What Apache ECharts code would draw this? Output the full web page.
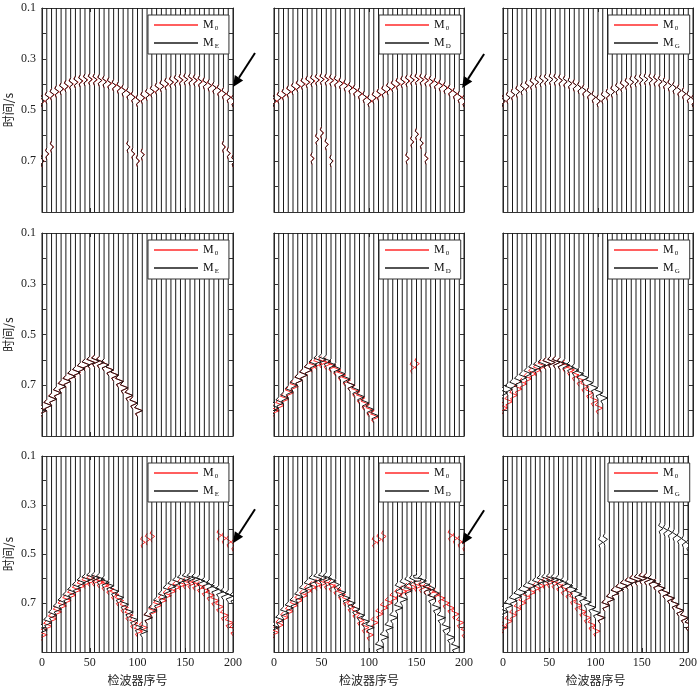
<!DOCTYPE html>
<html>
<head>
<meta charset="utf-8">
<script src="https://cdn.jsdelivr.net/npm/echarts@6/dist/echarts.min.js"></script>
<style>
  html, body { margin: 0; padding: 0; background: #fff; }
  #main { width: 700px; height: 687px; }
</style>
</head>
<body>
<div id="main"></div>
<script>
// receiver numbers (one trace each)
const TRACE_X = [0, 5, 10, 15, 20, 25, 30, 35, 40, 45, 50, 55, 60, 65, 70, 75, 80, 85, 90, 95, 100,
  105, 110, 115, 120, 125, 130, 135, 140, 145, 150, 155, 160, 165, 170, 175, 180, 185, 190, 195, 200];
const Y_LABELS = [0.1, 0.3, 0.5, 0.7];
const Y_MIN = 0.1, Y_MAX = 0.9;

// wavelet shape (time offset in s, relative amplitude)
const WAVELET_DT = [-0.024, -0.012, 0, 0.012, 0.024];
const WAVELET_AMP = [0, -0.6, 1, -0.4, 0];

// arrival times per trace, null = no event on that trace
const T_DIRECT = [0.465, 0.452, 0.44, 0.428, 0.417, 0.407, 0.398, 0.391, 0.386, 0.382, 0.380, 0.381, 0.384, 0.389, 0.396, 0.404, 0.413, 0.424, 0.436, 0.45, 0.465,
  0.452, 0.44, 0.428, 0.417, 0.407, 0.398, 0.391, 0.386, 0.382, 0.380, 0.381, 0.384, 0.389, 0.396, 0.404, 0.413, 0.424, 0.436, 0.45, 0.465];
const T_R1_NOTCH = [0.70, 0.672, 0.645, null, null, null, null, null, null, null, null, null, null, null, null, null, null, null,
  0.645, 0.672, 0.70, 0.675, null, null, null, null, null, null, null, null, null, null, null, null, null, null, null, null, 0.645, 0.67, 0.70];
const T_R1_APEX = [null, null, null, null, null, null, null, null, 0.69, 0.615, 0.59, 0.635, 0.70,
  null, null, null, null, null, null, null, null, null, null, null, null, null, null, null,
  0.69, 0.625, 0.595, 0.63, 0.69, null, null, null, null, null, null, null, null];

const T_R2_C1 = [0.80, 0.78, 0.755, 0.73, 0.705, 0.685, 0.665, 0.65, 0.635, 0.62, 0.61, 0.605, 0.61, 0.62, 0.64, 0.66, 0.685, 0.71, 0.74, 0.77, 0.80,
  null, null, null, null, null, null, null, null, null, null, null, null, null, null, null, null, null, null, null, null];
const T_R2_C2_BLACK = [0.79, 0.77, 0.75, 0.725, 0.70, 0.68, 0.66, 0.64, 0.62, 0.605, 0.60, 0.605, 0.62, 0.635, 0.655, 0.675, 0.70, 0.72, 0.745, 0.77, 0.795, 0.82,
  null, null, null, null, null, null, null, null, null, null, null, null, null, null, null, null, null, null, null];
const T_R2_C2_RED = [0.80, 0.78, 0.755, 0.73, 0.705, 0.68, 0.66, 0.64, 0.625, 0.615, 0.61, 0.615, 0.625, 0.64, 0.66, 0.68, 0.70, 0.725, 0.75, 0.775, 0.80, 0.825,
  null, null, null, null, null, null, null, null, null, null, null, null, null, null, null, null, null, null, null];
const T_R2_C2_EXTRA = [null, null, null, null, null, null, null, null, null, null, null, null, null, null, null, null, null, null, null, null,
  null, null, null, null, null, null, null, null, null, 0.63, 0.615, null, null, null, null, null, null, null, null, null, null];
const T_R2_C3_BLACK = [0.73, 0.715, 0.70, 0.685, 0.67, 0.655, 0.64, 0.63, 0.62, 0.615, 0.61, 0.61, 0.615, 0.62, 0.63, 0.64, 0.655, 0.67, 0.69, 0.71, 0.73, 0.75,
  null, null, null, null, null, null, null, null, null, null, null, null, null, null, null, null, null, null, null];
const T_R2_C3_RED = [0.79, 0.765, 0.74, 0.715, 0.695, 0.675, 0.655, 0.64, 0.625, 0.615, 0.61, 0.61, 0.615, 0.625, 0.64, 0.66, 0.68, 0.705, 0.73, 0.76, 0.79,
  null, null, null, null, null, null, null, null, null, null, null, null, null, null, null, null, null, null, null, null];

const T_R3_C1_BLACK = [0.81, 0.78, 0.75, 0.725, 0.70, 0.678, 0.657, 0.637, 0.618, 0.606, 0.598, 0.598, 0.603, 0.615, 0.63, 0.652, 0.677, 0.705, 0.736, 0.768, 0.80,
  0.816, 0.76, 0.73, 0.70, 0.675, 0.65, 0.632, 0.618, 0.607, 0.60, 0.60, 0.603, 0.61, 0.62, 0.63, 0.643, 0.653, 0.663, 0.672, 0.68];
const T_R3_C1_RED = [0.83, 0.795, 0.765, 0.737, 0.712, 0.69, 0.668, 0.648, 0.63, 0.617, 0.61, 0.61, 0.615, 0.627, 0.643, 0.665, 0.69, 0.718, 0.75, 0.782, 0.815,
  0.80, 0.76, 0.735, 0.71, 0.69, 0.67, 0.652, 0.635, 0.625, 0.62, 0.62, 0.625, 0.635, 0.65, 0.668, 0.69, 0.715, 0.75, 0.78, 0.81];
const T_R3_C2_BLACK = [0.80, 0.77, 0.74, 0.72, 0.70, 0.675, 0.65, 0.63, 0.61, 0.602, 0.598, 0.60, 0.61, 0.632, 0.657, 0.68, 0.70, 0.725, 0.75, 0.775, 0.80,
  null, 0.88, 0.84, 0.80, 0.76, 0.72, 0.685, 0.65, 0.615, 0.60, 0.61, 0.645, 0.68, 0.72, 0.76, 0.80, 0.84, 0.88, null, null];
const T_R3_C2_TANGLE = [null, null, null, null, null, null, null, 0.63, 0.615, 0.605, 0.60, 0.603, 0.61, 0.625,
  null, null, null, null, null, null, null, null, null, null, null, null,
  0.64, 0.625, 0.615, 0.61, 0.61, 0.615, 0.625, 0.64, 0.66, null, null, null, null, null, null];
const T_R3_C2_RED = [0.82, 0.79, 0.76, 0.735, 0.71, 0.69, 0.67, 0.65, 0.635, 0.625, 0.62, 0.622, 0.63, 0.645, 0.665, 0.69, 0.715, 0.74, 0.77, 0.80, 0.83,
  0.78, 0.745, 0.72, 0.70, 0.68, 0.665, 0.652, 0.642, 0.635, 0.632, 0.635, 0.642, 0.652, 0.665, 0.68, 0.70, 0.72, 0.745, 0.78, 0.82];
const T_R3_C3_BLACK = [0.736, 0.71, 0.69, 0.672, 0.657, 0.643, 0.63, 0.62, 0.61, 0.605, 0.603, 0.605, 0.61, 0.62, 0.63, 0.645, 0.663, 0.68, 0.697, 0.718, 0.74,
  0.76, 0.71, 0.685, 0.66, 0.645, 0.63, 0.62, 0.61, 0.605, 0.60, 0.603, 0.61, 0.625, 0.64, 0.66, 0.68, 0.705, 0.73, 0.76, 0.79];
const T_R3_C3_RED = [0.80, 0.775, 0.75, 0.725, 0.70, 0.678, 0.657, 0.64, 0.63, 0.62, 0.615, 0.62, 0.63, 0.645, 0.66, 0.685, 0.71, 0.735, 0.76, 0.79, 0.815,
  0.76, 0.71, 0.685, 0.66, 0.645, 0.63, 0.62, 0.61, 0.605, 0.60, 0.603, 0.61, 0.625, 0.64, 0.66, 0.68, 0.705, 0.73, 0.76, 0.79];
const T_R3_DIRECT_RED = [null, null, null, null, null, null, null, null, null, null, null, null, null, null, null, null, null, null, null, null, null,
  0.452, 0.44, 0.428, null, null, null, null, null, null, null, null, null, null, null, null, null, 0.424, 0.436, 0.45, 0.465];
const T_R3_DIRECT_C3 = [null, null, null, null, null, null, null, null, null, null, null, null, null, null, null, null, null, null, null, null, null,
  0.452, 0.44, null, null, null, null, null, null, null, null, null, null, null, 0.396, 0.404, 0.413, 0.424, 0.436, 0.45, 0.465];

// [times, amplitude] pairs per panel, row by row
const PANEL_NAMES = ['ME', 'MD', 'MG', 'ME', 'MD', 'MG', 'ME', 'MD', 'MG'];
const PANEL_RED = [
  [[T_DIRECT, 3], [T_R1_NOTCH, 2.4]],
  [[T_DIRECT, 3.2], [T_R1_APEX, 2.4]],
  [[T_DIRECT, 2.5]],
  [[T_R2_C1, 5.3]],
  [[T_R2_C2_RED, 5.5], [T_R2_C2_EXTRA, 3]],
  [[T_R2_C3_RED, 5]],
  [[T_R3_C1_RED, 5.5], [T_R3_DIRECT_RED, 3]],
  [[T_R3_C2_RED, 5], [T_R3_DIRECT_RED, 3]],
  [[T_R3_C3_RED, 5]]
];
const PANEL_BLACK = [
  [[T_DIRECT, 2.4], [T_R1_NOTCH, 1.8]],
  [[T_DIRECT, 2.3], [T_R1_APEX, 1.8]],
  [[T_DIRECT, 2.5]],
  [[T_R2_C1, 5]],
  [[T_R2_C2_BLACK, 5]],
  [[T_R2_C3_BLACK, 5]],
  [[T_R3_C1_BLACK, 5.5]],
  [[T_R3_C2_BLACK, 5.5], [T_R3_C2_TANGLE, 4]],
  [[T_R3_C3_BLACK, 5.5], [T_R3_DIRECT_C3, 3]]
];
// arrows: [panel, receiver, time]
const ARROWS = [[0, 200, 0.41], [1, 198, 0.414], [6, 200, 0.456], [7, 198, 0.46]];

// full = whole trace from top to bottom; otherwise only the wavelet pieces
function buildTraces(events, full) {
  const pts = [];
  TRACE_X.forEach((x, i) => {
    const samples = [];
    events.forEach(([times, amp]) => {
      if (times[i] == null) return;
      WAVELET_DT.forEach((dt, k) => {
        samples.push([x + amp * WAVELET_AMP[k], times[i] + dt]);
      });
    });
    samples.sort((a, b) => a[1] - b[1]);
    if (full) {
      pts.push([x, Y_MIN], ...samples, [x, Y_MAX], ['-', '-']);
    } else if (samples.length) {
      samples.forEach((s, k) => {
        if (k > 0 && s[1] - samples[k - 1][1] > 0.02) pts.push(['-', '-']);
        pts.push(s);
      });
      pts.push(['-', '-']);
    }
  });
  return pts;
}

const COL_LEFT = [42, 274, 503];
const COL_W = [191, 190, 190];
const ROW_TOP = [8, 233, 456];
const ROW_H = [204, 203, 202];
const serif = 'Liberation Serif';
const cjk = 'Noto Sans CJK SC';
const axisColor = '#333';

const grid = [], xAxis = [], yAxis = [], series = [], legend = [];
for (let g = 0; g < 9; g++) {
  const r = Math.floor(g / 3), c = g % 3;
  grid.push({ left: COL_LEFT[c], top: ROW_TOP[r], width: COL_W[c], height: ROW_H[r] });
}
for (let side = 0; side < 2; side++) {
  for (let g = 0; g < 9; g++) {
    const r = Math.floor(g / 3), c = g % 3;
    const bottomRow = r === 2 && side === 0;
    xAxis.push({
      type: 'value', gridIndex: g, min: 0, max: 200, interval: 50,
      position: side === 0 ? 'bottom' : 'top',
      axisLine: { show: true, onZero: false, lineStyle: { color: axisColor, width: 1 } },
      axisTick: { show: true, inside: true, length: 4, lineStyle: { color: axisColor } },
      axisLabel: { show: bottomRow, margin: 5, fontFamily: serif, fontSize: 12, color: '#222' },
      splitLine: { show: false },
      name: bottomRow ? '检波器序号' : '', nameLocation: 'middle', nameGap: 22,
      nameTextStyle: { fontFamily: cjk, fontSize: 12, color: '#222' }
    });
    const leftCol = c === 0 && side === 0;
    yAxis.push({
      type: 'value', gridIndex: g, min: Y_MIN, max: Y_MAX, interval: 0.1, inverse: true,
      position: side === 0 ? 'left' : 'right',
      axisLine: { show: true, onZero: false, lineStyle: { color: axisColor, width: 1 } },
      axisTick: { show: true, inside: true, length: 4, lineStyle: { color: axisColor } },
      axisLabel: {
        show: leftCol, margin: 6, fontFamily: serif, fontSize: 12, color: '#222',
        showMaxLabel: false,
        formatter: v => {
          const hit = Y_LABELS.find(l => Math.abs(l - v) < 1e-6);
          return hit === undefined ? '' : hit.toFixed(1);
        }
      },
      splitLine: { show: false },
      name: leftCol ? '时间/s' : '', nameLocation: 'middle', nameGap: 28, nameRotate: 90,
      nameTextStyle: { fontFamily: cjk, fontSize: 12, color: '#222' }
    });
  }
}
for (let g = 0; g < 9; g++) {
  const r = Math.floor(g / 3), c = g % 3;
  series.push({
    name: 'M0', type: 'line', xAxisIndex: g, yAxisIndex: g,
    data: buildTraces(PANEL_RED[g], false), symbol: 'none', connectNulls: false,
    lineStyle: { color: '#ff2a2a', width: 1 }, itemStyle: { color: '#ff2a2a' }, z: 2
  });
  series.push({
    name: PANEL_NAMES[g], type: 'line', xAxisIndex: g, yAxisIndex: g,
    data: buildTraces(PANEL_BLACK[g], true), symbol: 'none', connectNulls: false,
    lineStyle: { color: '#1a1a1a', width: 1 }, itemStyle: { color: '#1a1a1a' }, z: 3
  });
  legend.push({
    data: ['M0', PANEL_NAMES[g]], orient: 'vertical', selectedMode: false,
    left: COL_LEFT[c] + COL_W[c] - 85, top: ROW_TOP[r] + 7,
    icon: 'rect', itemWidth: 44, itemHeight: 1.5, itemGap: 5,
    padding: [4, 10, 4, 6],
    backgroundColor: '#fff', borderColor: '#333', borderWidth: 1, borderRadius: 0,
    formatter: name => '{m|M}{s|' + name.slice(1) + '}',
    textStyle: {
      color: '#111',
      rich: {
        m: { fontFamily: serif, fontSize: 12, lineHeight: 14 },
        s: { fontFamily: serif, fontSize: 7, lineHeight: 14, verticalAlign: 'bottom', padding: [6, 0, 0, 1] }
      }
    },
    z: 10
  });
}

const chart = echarts.init(document.getElementById('main'), null, { renderer: 'canvas' });
chart.setOption({ animation: false, backgroundColor: '#fff', grid, xAxis, yAxis, series, legend });

// arrows pointing at the trace ends
const graphic = [];
ARROWS.forEach(([g, x, t]) => {
  const tip = chart.convertToPixel({ xAxisIndex: g, yAxisIndex: g }, [x, t]);
  const tail = [tip[0] + 22, tip[1] - 34];
  const len = Math.hypot(tail[0] - tip[0], tail[1] - tip[1]);
  const ux = (tail[0] - tip[0]) / len, uy = (tail[1] - tip[1]) / len;
  const base = [tip[0] + ux * 11, tip[1] + uy * 11];
  graphic.push({
    type: 'line', z: 20,
    shape: { x1: tail[0], y1: tail[1], x2: base[0], y2: base[1] },
    style: { stroke: '#000', lineWidth: 2 }
  });
  graphic.push({
    type: 'polygon', z: 20,
    shape: { points: [tip, [base[0] - uy * 5, base[1] + ux * 5], [base[0] + uy * 5, base[1] - ux * 5]] },
    style: { fill: '#000' }
  });
});
chart.setOption({ graphic });
</script>
</body>
</html>
